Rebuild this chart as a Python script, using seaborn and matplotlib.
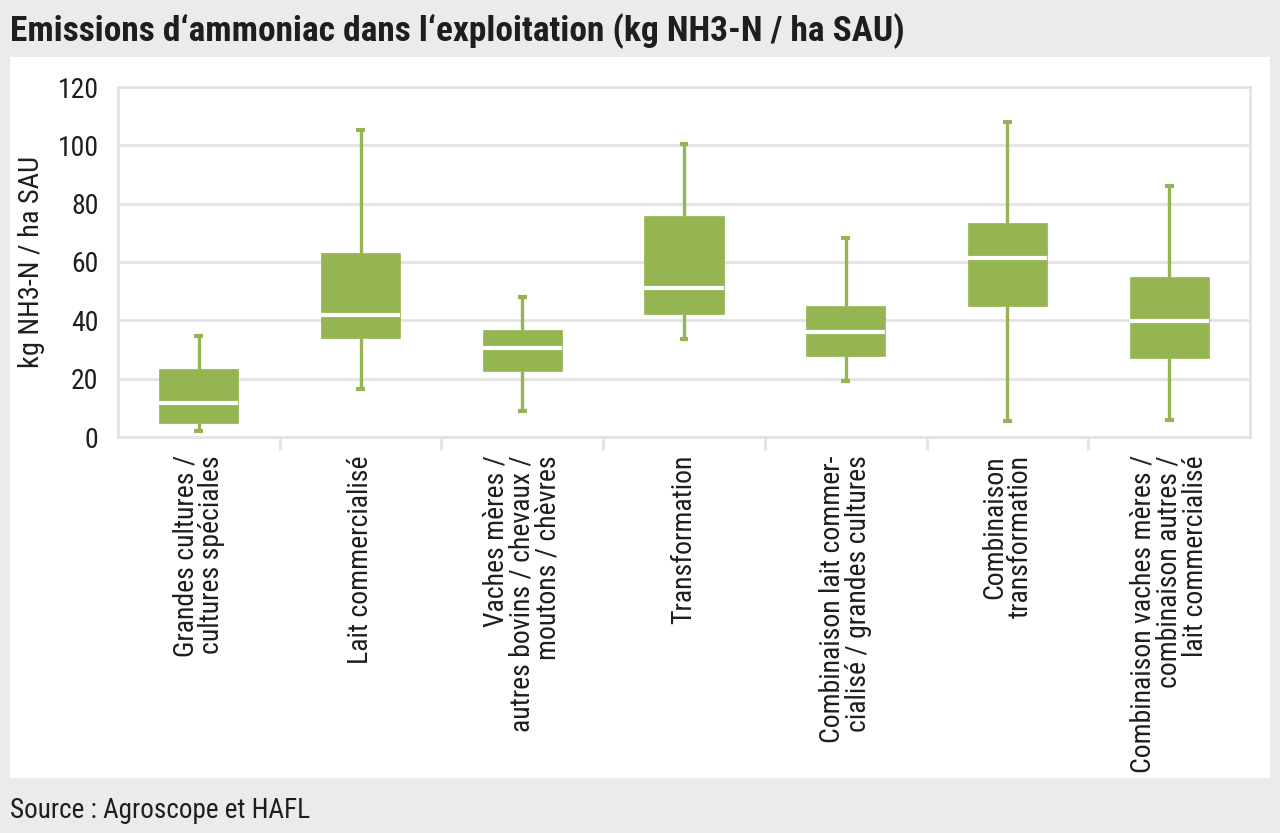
import pandas as pd
import numpy as np
import matplotlib.pyplot as plt
import seaborn as sns
from matplotlib.patches import Rectangle

categories = [
    "Grandes cultures /\ncultures spéciales",
    "Lait commercialisé",
    "Vaches mères /\nautres bovins / chevaux /\nmoutons / chèvres",
    "Transformation",
    "Combinaison lait commer-\ncialisé / grandes cultures",
    "Combinaison\ntransformation",
    "Combinaison vaches mères /\ncombinaison autres /\nlait commercialisé",
]
# five-number summaries
whisk_low = [2.0, 16.3, 8.8, 33.6, 19.3, 5.4, 5.9]
q1 = [4.7, 34.1, 22.6, 42.1, 27.8, 45.0, 27.1]
median = [11.8, 41.7, 30.4, 51.0, 35.9, 61.5, 39.7]
q3 = [23.2, 63.2, 36.8, 75.8, 45.0, 73.3, 55.0]
whisk_high = [34.7, 105.1, 47.9, 100.4, 68.3, 107.9, 86.0]
yticks = [0, 20, 40, 60, 80, 100, 120]

rows = []
for i, c in enumerate(categories):
    for v in (whisk_low[i], q1[i], median[i], q3[i], whisk_high[i]):
        rows.append({"cat": c, "val": v})
df = pd.DataFrame(rows)

green = "#95b552"
grid = "#e3e3e3"
bg = "#ebebeb"
txt = "#1e1e1e"

sns.set_theme(style="whitegrid")
plt.rcParams["font.family"] = ["Roboto Condensed", "Lato", "DejaVu Sans"]

fig = plt.figure(figsize=(12.8, 8.33), dpi=100, facecolor=bg)
fig.patches.append(Rectangle((10 / 1280, 1 - 778 / 833), 1260 / 1280, 721 / 833,
                             transform=fig.transFigure, facecolor="white",
                             edgecolor="none", zorder=-10))
ax = fig.add_axes([118 / 1280, 1 - 437 / 833, 1132 / 1280, 350 / 833])
ax.set_zorder(1)

sns.boxplot(data=df, x="cat", y="val", order=categories, ax=ax,
            color=green, saturation=1, width=0.49, whis=(0, 100),
            linecolor=green, linewidth=2.2,
            boxprops=dict(linewidth=0.5),
            medianprops=dict(color="white", linewidth=3, solid_capstyle="butt"),
            capprops=dict(color=green, linewidth=3, solid_capstyle="butt"),
            whiskerprops=dict(color=green, linewidth=2.4),
            capwidths=0.055, showfliers=False)

ax.set_xlim(-0.5, 6.5)
ax.set_ylim(0, 120)
ax.set_yticks(yticks)
ax.set_facecolor("white")
ax.grid(axis="y", color=grid, linewidth=2)
ax.grid(axis="x", visible=False)
for s in ax.spines.values():
    s.set_color(grid)
    s.set_linewidth(2)
ax.set_axisbelow(True)

ax.set_xticks(range(len(categories)))
ax.set_xticklabels(categories, rotation=90, ha="center", va="top",
                   multialignment="right", linespacing=0.95)
ax.set_xticks(np.arange(0.5, 6.5, 1), minor=True)
ax.tick_params(axis="x", which="major", length=0, pad=13, labelsize=20, labelcolor=txt)
ax.tick_params(axis="x", which="minor", length=9, width=2, color=grid, direction="out",
               bottom=True)
ax.tick_params(axis="y", length=0, pad=14, labelsize=20, labelcolor=txt)
ax.set_xlabel("")
ax.set_ylabel("kg NH3-N / ha SAU", fontsize=20.5, color=txt, labelpad=9)

fig.text(10 / 1280, 1 - 31 / 833, "Emissions d‘ammoniac dans l‘exploitation (kg NH3-N / ha SAU)",
         fontsize=25.5, fontweight="bold", color=txt, va="center", ha="left")
fig.text(10 / 1280, 1 - 811 / 833, "Source : Agroscope et HAFL",
         fontsize=19.5, color=txt, va="center", ha="left")

fig.savefig("out.png", dpi=100, facecolor=bg)
